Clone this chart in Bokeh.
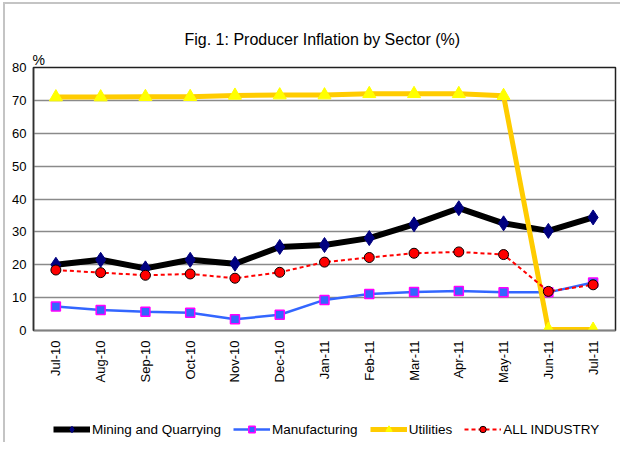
from bokeh.plotting import figure
from bokeh.models import (ColumnDataSource, Legend, LegendItem, Title,
                          FixedTicker, Range1d)
from bokeh.layouts import column
from bokeh.embed import file_html
from bokeh.resources import INLINE

months = ["Jul-10", "Aug-10", "Sep-10", "Oct-10", "Nov-10", "Dec-10", "Jan-11",
          "Feb-11", "Mar-11", "Apr-11", "May-11", "Jun-11", "Jul-11"]
mining = [20.0, 21.5, 18.9, 21.5, 20.3, 25.4, 26.0, 28.1, 32.3, 37.2, 32.6, 30.3, 34.4]
manufacturing = [7.3, 6.2, 5.7, 5.4, 3.4, 4.8, 9.3, 11.1, 11.7, 12.0, 11.6, 11.6, 14.6]
utilities = [71.0, 71.0, 71.1, 71.1, 71.5, 71.6, 71.6, 72.0, 72.0, 72.0, 71.4, 0.3, 0.3]
all_industry = [18.4, 17.6, 16.8, 17.2, 15.9, 17.7, 20.8, 22.2, 23.5, 23.9, 23.1, 11.9, 13.9]
series_names = ["Mining and Quarrying", "Manufacturing", "Utilities", "ALL INDUSTRY"]
y_ticks = [0, 10, 20, 30, 40, 50, 60, 70, 80]

FONT = "Liberation Sans"

src = ColumnDataSource(dict(m=months, mining=mining, manu=manufacturing,
                            util=utilities, allind=all_industry))


def draw_series(fig):
    r1l = fig.line("m", "mining", source=src, line_color="black", line_width=6)
    r1m = fig.scatter("m", "mining", source=src, marker="diamond", size=15,
                      fill_color="#000080", line_color="#000080")
    r2l = fig.line("m", "manu", source=src, line_color="#3366FF", line_width=2.5)
    r2m = fig.scatter("m", "manu", source=src, marker="square", size=9,
                      fill_color="#3366FF", line_color="#FF00FF", line_width=1.5)
    r3l = fig.line("m", "util", source=src, line_color="#FFCC00", line_width=5)
    r3m = fig.scatter("m", "util", source=src, marker="triangle", size=13,
                      fill_color="#FFFF00", line_color="#FFFF00")
    r4l = fig.line("m", "allind", source=src, line_color="#FF0000", line_width=2,
                   line_dash="4 3")
    r4m = fig.scatter("m", "allind", source=src, marker="circle", size=10,
                      fill_color="#FF0000", line_color="black", line_width=1)
    return [[r1l, r1m], [r2l, r2m], [r3l, r3m], [r4l, r4m]]


p = figure(x_range=months, y_range=Range1d(0, 80), width=620, height=392,
           output_backend="svg", toolbar_location=None, title_location=None,
           min_border_left=33, min_border_right=5, min_border_top=67, min_border_bottom=62)
p.styles = {"box-shadow": "inset 3px 2px 0 0 #ffffff, inset 5px 4px 0 0 #c4c4c4"}
p.background_fill_color = "white"
p.border_fill_color = None
p.outline_line_color = "#202020"
p.outline_line_width = 1.5

p.xgrid.grid_line_color = None
p.ygrid.grid_line_color = "#8a8a8a"
p.ygrid.grid_line_width = 1.5
p.yaxis.ticker = FixedTicker(ticks=y_ticks)

for ax in (p.xaxis[0], p.yaxis[0]):
    ax.major_tick_out = 0
    ax.major_tick_in = 0
    ax.minor_tick_out = 0
    ax.minor_tick_in = 0
    ax.major_label_text_font = FONT
    ax.major_label_text_color = "black"
p.yaxis.axis_line_color = "#303030"
p.yaxis.axis_line_width = 1.5
p.xaxis.axis_line_color = "#808080"
p.xaxis.axis_line_width = 1.5
p.yaxis.major_label_text_font_size = "13px"
p.yaxis.major_label_standoff = 7
p.xaxis.major_label_text_font_size = "13px"
p.xaxis.major_label_orientation = 3.14159265 / 2
p.xaxis.major_label_standoff = 10

draw_series(p)

t_pct = Title(text="%", align="left", offset=-1, standoff=0, text_font=FONT,
              text_font_size="14px", text_font_style="normal", text_color="black")
t_main = Title(text="Fig. 1: Producer Inflation by Sector (%)", align="left", offset=151,
               standoff=4, text_font=FONT, text_font_size="16px",
               text_font_style="normal", text_color="black")
p.add_layout(t_pct, "above")
p.add_layout(t_main, "above")

# legend strip below the chart
lf = figure(x_range=months, y_range=Range1d(1000, 1001), width=620, height=50,
            output_backend="svg", toolbar_location=None, title_location=None,
            min_border_left=0, min_border_right=0, min_border_top=0, min_border_bottom=0)
lf.styles = {"box-shadow": "inset 3px 0 0 0 #ffffff, inset 5px 0 0 0 #c4c4c4"}
lf.axis.visible = False
lf.grid.grid_line_color = None
lf.outline_line_color = None
lf.background_fill_color = None
lf.border_fill_color = None
rs = draw_series(lf)

legend = Legend(items=[LegendItem(label=n, renderers=r) for n, r in zip(series_names, rs)],
                orientation="horizontal", location=(20, 5))
legend.glyph_width = 37
legend.glyph_height = 16
legend.label_standoff = 2
legend.spacing = 12
legend.padding = 0
legend.margin = 0
legend.border_line_alpha = 0
legend.background_fill_alpha = 0
legend.label_text_font = FONT
legend.label_text_font_size = "13.5px"
legend.label_text_color = "black"
legend.label_height = 16
lf.add_layout(legend, "center")

layout = column(p, lf, spacing=0)
open("out.html", "w").write(file_html(layout, INLINE))
